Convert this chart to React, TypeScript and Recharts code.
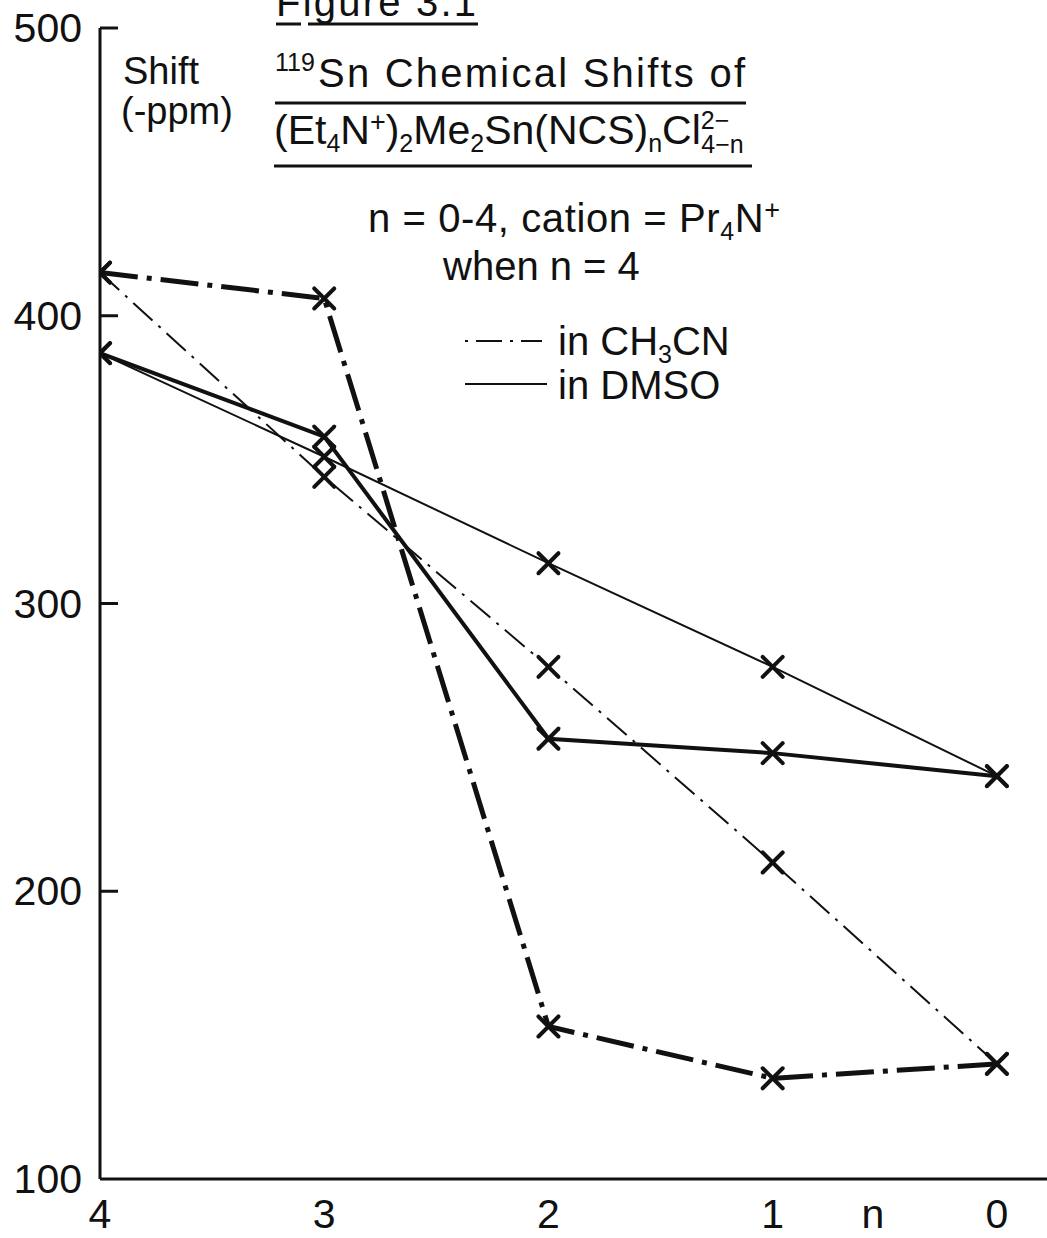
import React from "react";
import { LineChart, Line, XAxis, YAxis } from "recharts";

// n values run 4 -> 0 from left to right
const nValues = [4, 3, 2, 1, 0];
const ch3cnHeavy = [415, 406, 153, 135, 140];
const ch3cnLight = [415, 344, 278, 210, 140];
const dmsoHeavy = [387, 358, 253, 248, 240];
const dmsoLight = [387, 351, 314, 278, 240];

const yTicks = [100, 200, 300, 400, 500];
const xTicks = [4, 3, 2, 1, 0];

const W = 1047;
const H = 1238;
const ink = "#111";
const font = "'Liberation Sans', Arial, sans-serif";

const data = nValues.map((n, i) => ({
  n,
  ch3cnHeavy: ch3cnHeavy[i],
  ch3cnLight: ch3cnLight[i],
  dmsoHeavy: dmsoHeavy[i],
  dmsoLight: dmsoLight[i],
}));

const Cross = (p: any) => {
  const { cx, cy, index } = p;
  if (cx == null || cy == null) return <g key={index} />;
  const s = 10;
  return (
    <g key={index} stroke={ink} strokeWidth={4} strokeLinecap="round">
      <line x1={cx - s} y1={cy - s} x2={cx + s} y2={cy + s} />
      <line x1={cx - s} y1={cy + s} x2={cx + s} y2={cy - s} />
    </g>
  );
};

const YTick = (p: any) => {
  const { x, y, payload } = p;
  return (
    <g>
      <text x={x - 18} y={y + 14} textAnchor="end" fontSize={41} fontFamily={font} fill={ink}>
        {payload.value}
      </text>
      {payload.value !== 100 && <line x1={x} x2={x + 18} y1={y} y2={y} stroke={ink} strokeWidth={3} />}
    </g>
  );
};

const XTick = (p: any) => {
  const { x, y, payload } = p;
  return (
    <text x={x} y={y + 49} textAnchor="middle" fontSize={41} fontFamily={font} fill={ink}>
      {payload.value}
    </text>
  );
};

const Overlay = () => (
  <svg width={W} height={H} style={{ position: "absolute", left: 0, top: 0, pointerEvents: "none" }}>
    <g fontFamily={font} fill={ink}>
      <text x={276} y={16} fontSize={40} textLength={200} lengthAdjust="spacing">Figure 3.1</text>
      <line x1={276} x2={301} y1={24} y2={24} stroke={ink} strokeWidth={3} />
      <line x1={308} x2={478} y1={24} y2={24} stroke={ink} strokeWidth={3} />

      <text x={123} y={84} fontSize={38}>Shift</text>
      <text x={121} y={124} fontSize={38}>(-ppm)</text>

      <text x={275} y={71} fontSize={25}>119</text>
      <text x={318} y={87} fontSize={40} textLength={427} lengthAdjust="spacing">Sn Chemical Shifts of</text>
      <line x1={275} x2={746} y1={103} y2={103} stroke={ink} strokeWidth={3} />

      <text x={274} y={144} fontSize={41}>
        <tspan>(Et</tspan>
        <tspan fontSize={25} dy={8}>4</tspan>
        <tspan dy={-8}>N</tspan>
        <tspan fontSize={27} dy={-13}>+</tspan>
        <tspan dy={13}>)</tspan>
        <tspan fontSize={25} dy={8}>2</tspan>
        <tspan dy={-8}>Me</tspan>
        <tspan fontSize={25} dy={8}>2</tspan>
        <tspan dy={-8}>Sn(NCS)</tspan>
        <tspan fontSize={25} dy={8}>n</tspan>
        <tspan dy={-8}>Cl</tspan>
        <tspan fontSize={25} dy={-15}>2−</tspan>
        <tspan fontSize={25} dx={-28} dy={24}>4−n</tspan>
      </text>
      <line x1={274} x2={752} y1={166} y2={166} stroke={ink} strokeWidth={3} />

      <text x={368} y={232} fontSize={40} letterSpacing={0.6}>
        <tspan>n = 0-4,  cation = Pr</tspan>
        <tspan fontSize={25} dy={8}>4</tspan>
        <tspan dy={-8}>N</tspan>
        <tspan fontSize={27} dy={-13}>+</tspan>
      </text>
      <text x={443} y={280} fontSize={40}>when  n = 4</text>

      <line x1={465} x2={542} y1={341} y2={341} stroke={ink} strokeWidth={2} strokeDasharray="3 8 26 8" />
      <text x={558} y={355} fontSize={40}>
        <tspan>in CH</tspan>
        <tspan fontSize={25} dy={8}>3</tspan>
        <tspan dy={-8}>CN</tspan>
      </text>
      <line x1={465} x2={547} y1={384} y2={384} stroke={ink} strokeWidth={2} />
      <text x={558} y={399} fontSize={40}>in DMSO</text>

      <text x={873} y={1228} fontSize={41} textAnchor="middle">n</text>
    </g>
  </svg>
);

export default function App() {
  return (
    <div style={{ position: "absolute", left: 0, top: 0, width: W, height: H, background: "#fff" }}>
      <LineChart width={W} height={H} data={data} margin={{ top: 28, right: 0, bottom: 0, left: 0 }}>
        <XAxis
          dataKey="n"
          type="number"
          domain={[-0.2235, 4]}
          reversed
          allowDataOverflow
          ticks={xTicks}
          interval={0}
          height={59}
          tickSize={0}
          tickMargin={0}
          tickLine={false}
          axisLine={{ stroke: ink, strokeWidth: 3 }}
          tick={<XTick />}
        />
        <YAxis
          type="number"
          domain={[100, 500]}
          ticks={yTicks}
          interval={0}
          width={100}
          tickSize={0}
          tickMargin={0}
          tickLine={false}
          axisLine={{ stroke: ink, strokeWidth: 3 }}
          tick={<YTick />}
        />
        <Line type="linear" dataKey="ch3cnHeavy" stroke={ink} strokeWidth={5} strokeDasharray="38 9 5 9" dot={Cross} activeDot={false} isAnimationActive={false} />
        <Line type="linear" dataKey="ch3cnLight" stroke={ink} strokeWidth={2} strokeDasharray="26 8 3 8" dot={Cross} activeDot={false} isAnimationActive={false} />
        <Line type="linear" dataKey="dmsoHeavy" stroke={ink} strokeWidth={4} dot={Cross} activeDot={false} isAnimationActive={false} />
        <Line type="linear" dataKey="dmsoLight" stroke={ink} strokeWidth={2} dot={Cross} activeDot={false} isAnimationActive={false} />
      </LineChart>
      <Overlay />
    </div>
  );
}
